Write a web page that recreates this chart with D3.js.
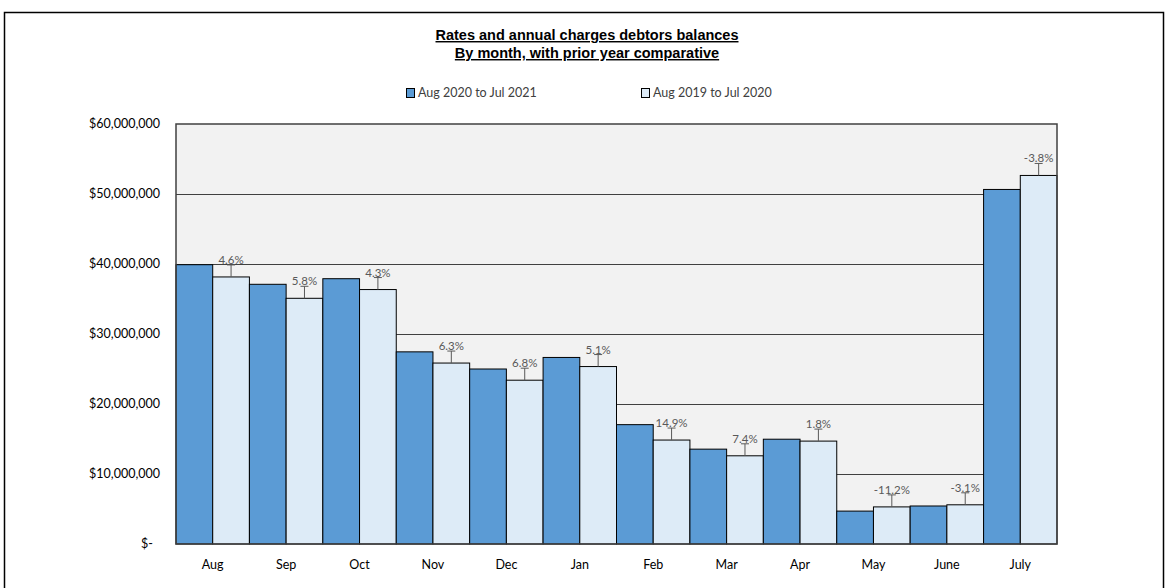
<!DOCTYPE html>
<html>
<head>
<meta charset="utf-8">
<script src="https://cdn.jsdelivr.net/npm/d3@7"></script>
<style>
  body { margin: 0; background: #fff; }
  svg { display: block; }
</style>
</head>
<body>
<div id="chart"></div>
<script>
// month categories
const months = ["Aug", "Sep", "Oct", "Nov", "Dec", "Jan", "Feb", "Mar", "Apr", "May", "June", "July"];
// Aug 2020 to Jul 2021
const current = [39900000, 37100000, 37900000, 27450000, 25000000, 26650000, 17050000, 13550000, 14970000, 4700000, 5430000, 50650000];
// Aug 2019 to Jul 2020
const prior = [38150000, 35100000, 36350000, 25850000, 23400000, 25350000, 14850000, 12600000, 14700000, 5300000, 5600000, 52650000];
// change labels shown above prior-year bars
const changeLabels = ["4.6%", "5.8%", "4.3%", "6.3%", "6.8%", "5.1%", "14.9%", "7.4%", "1.8%", "-11.2%", "-3.1%", "-3.8%"];
const yTicks = [0, 10000000, 20000000, 30000000, 40000000, 50000000, 60000000];
const seriesNames = ["Aug 2020 to Jul 2021", "Aug 2019 to Jul 2020"];

const width = 1168, height = 588;
const marginLeft = 176, marginRight = 111, marginTop = 124, marginBottom = 44;
const blue = "#5b9bd5", lightBlue = "#ddebf7";
const labelFont = "Lato, 'Open Sans', sans-serif";

const svg = d3.select("#chart").append("svg")
  .attr("width", width)
  .attr("height", height);

// outer chart border
svg.append("rect")
  .attr("x", 4.5).attr("y", 12.5)
  .attr("width", 1159).attr("height", 600)
  .attr("fill", "#fff")
  .attr("stroke", "#000")
  .attr("stroke-width", 1.5);

const x = d3.scaleBand(months, [marginLeft, width - marginRight]).padding(0);
const x1 = d3.scaleBand([0, 1], [0, x.bandwidth()]).padding(0);
const y = d3.scaleLinear([0, 60000000], [height - marginBottom, marginTop]);

// plot background
svg.append("rect")
  .attr("x", marginLeft).attr("y", marginTop)
  .attr("width", width - marginRight - marginLeft)
  .attr("height", height - marginBottom - marginTop)
  .attr("fill", "#f2f2f2");

// gridlines
svg.append("g")
  .selectAll("line")
  .data(yTicks.slice(1, -1))
  .join("line")
  .attr("x1", marginLeft).attr("x2", width - marginRight)
  .attr("y1", d => Math.round(y(d)) + 0.5).attr("y2", d => Math.round(y(d)) + 0.5)
  .attr("stroke", "#404040")
  .attr("stroke-width", 1);

// bars
const groups = svg.append("g")
  .selectAll("g")
  .data(months)
  .join("g")
  .attr("transform", d => `translate(${x(d)},0)`);

groups.append("rect")
  .attr("x", 0)
  .attr("y", (d, i) => y(current[i]))
  .attr("width", x1.bandwidth())
  .attr("height", (d, i) => y(0) - y(current[i]))
  .attr("fill", blue)
  .attr("stroke", "#000")
  .attr("stroke-width", 1);

groups.append("rect")
  .attr("x", x1(1))
  .attr("y", (d, i) => y(prior[i]))
  .attr("width", x1.bandwidth())
  .attr("height", (d, i) => y(0) - y(prior[i]))
  .attr("fill", lightBlue)
  .attr("stroke", "#000")
  .attr("stroke-width", 1);

// error-bar style markers above prior bars
const cx = x1(1) + x1.bandwidth() / 2;
groups.append("path")
  .attr("d", (d, i) => {
    const top = y(prior[i]);
    return `M${cx},${top} V${top - 12} M${cx - 4},${top - 12} H${cx + 4}`;
  })
  .attr("stroke", "#595959")
  .attr("stroke-width", 1)
  .attr("fill", "none");

groups.append("text")
  .attr("x", cx)
  .attr("y", (d, i) => y(prior[i]) - 13)
  .attr("text-anchor", "middle")
  .attr("font-family", labelFont)
  .attr("font-size", 11.5)
  .attr("fill", "#595959")
  .text((d, i) => changeLabels[i]);

// plot border
svg.append("rect")
  .attr("x", marginLeft).attr("y", marginTop)
  .attr("width", width - marginRight - marginLeft)
  .attr("height", height - marginBottom - marginTop)
  .attr("fill", "none")
  .attr("stroke", "#404040")
  .attr("stroke-width", 1.5);

// y axis labels
const fmt = d3.format(",");
svg.append("g")
  .selectAll("text")
  .data(yTicks)
  .join("text")
  .attr("x", d => d === 0 ? 153 : 160)
  .attr("y", d => y(d))
  .attr("dy", "0.35em")
  .attr("text-anchor", "end")
  .attr("font-family", labelFont)
  .attr("font-size", 12.5)
  .attr("fill", "#000")
  .text(d => d === 0 ? "$-" : "$" + fmt(d));

// x axis labels
svg.append("g")
  .selectAll("text")
  .data(months)
  .join("text")
  .attr("x", d => x(d) + x.bandwidth() / 2)
  .attr("y", 565)
  .attr("dy", "0.35em")
  .attr("text-anchor", "middle")
  .attr("font-family", labelFont)
  .attr("font-size", 12.5)
  .attr("fill", "#000")
  .text(d => d);

// title
const title = svg.append("text")
  .attr("text-anchor", "middle")
  .attr("font-family", "'Liberation Sans Narrow', 'Liberation Sans', Arial, sans-serif")
  .attr("font-weight", "bold")
  .attr("font-size", 14.5)
  .attr("text-decoration", "underline")
  .attr("fill", "#000");
title.append("tspan").attr("x", 587).attr("y", 40).text("Rates and annual charges debtors  balances");
title.append("tspan").attr("x", 587).attr("y", 58).text("By month, with prior year comparative");

// legend
const legend = svg.append("g")
  .selectAll("g")
  .data(seriesNames)
  .join("g")
  .attr("transform", (d, i) => `translate(${i === 0 ? 406 : 641},88)`);
legend.append("rect")
  .attr("x", 0.5).attr("y", 0.5)
  .attr("width", 8).attr("height", 9)
  .attr("fill", (d, i) => i === 0 ? blue : lightBlue)
  .attr("stroke", "#000");
legend.append("text")
  .attr("x", 12)
  .attr("y", 5)
  .attr("dy", "0.35em")
  .attr("font-family", labelFont)
  .attr("font-size", 12.5)
  .attr("fill", "#404040")
  .text(d => d);
</script>
</body>
</html>
